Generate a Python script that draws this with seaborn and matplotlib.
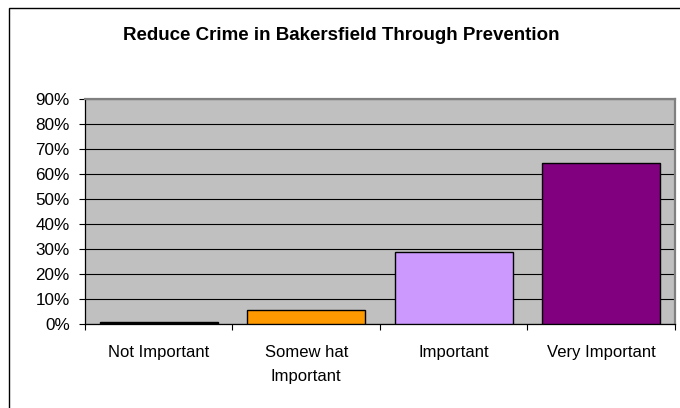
import matplotlib
matplotlib.use("Agg")
import matplotlib.pyplot as plt
import matplotlib.patches as mpatches
from matplotlib.ticker import FixedLocator, PercentFormatter
import seaborn as sns
import pandas as pd

# Survey responses
categories = ["Not Important", "Somew hat\nImportant", "Important", "Very Important"]
shares = [0.9, 5.5, 28.8, 64.5]
bar_colors = ["#000000", "#FF9900", "#CC99FF", "#800080"]
title = "Reduce Crime in Bakersfield Through Prevention"

sns.set_theme(style="white")
plt.rcParams["font.family"] = ["Liberation Sans", "DejaVu Sans"]
plt.rcParams["text.color"] = "black"
plt.rcParams["xtick.color"] = "black"
plt.rcParams["ytick.color"] = "black"

df = pd.DataFrame({"category": categories, "share": shares})

fig = plt.figure(figsize=(6.8, 4.08), dpi=100)
ax = fig.add_axes([0.125, 0.2059, 0.8676, 0.5515])

sns.barplot(data=df, x="category", y="share", hue="category",
            palette=bar_colors, saturation=1, width=0.8, edgecolor="black",
            linewidth=1.0, legend=False, ax=ax, zorder=3)

ax.set_facecolor("#C0C0C0")
ax.set_ylim(0, 90)
ax.set_xlim(-0.5, len(categories) - 0.5)
ax.yaxis.set_major_locator(FixedLocator(range(0, 91, 10)))
ax.yaxis.set_major_formatter(PercentFormatter(decimals=0))
ax.grid(axis="y", color="black", linewidth=0.8, zorder=1)
ax.set_axisbelow(True)

# Category labels sit between boundary ticks
ax.set_xticks([i - 0.5 for i in range(len(categories) + 1)])
ax.set_xticklabels([])
ax.set_xticks(range(len(categories)), minor=True)
ax.set_xticklabels(categories, minor=True, fontsize=12, linespacing=1.75)
ax.tick_params(axis="x", which="major", direction="out", length=4,
               width=0.8, color="black", bottom=True)
ax.tick_params(axis="x", which="minor", length=0, pad=15, bottom=True)
ax.tick_params(axis="y", direction="out", length=4, width=0.8,
               color="black", left=True, pad=7, labelsize=12.3)
ax.set_xlabel("")
ax.set_ylabel("")

for side in ("left", "bottom"):
    ax.spines[side].set_color("black")
    ax.spines[side].set_linewidth(0.9)
for side in ("top", "right"):
    ax.spines[side].set_color("#808080")
    ax.spines[side].set_linewidth(1.6)

fig.text(0.502, 0.914, title, ha="center", va="center",
         fontsize=13.5, fontweight="bold")

# Chart frame
frame = mpatches.Rectangle((9 / 680, -0.05), 1.2, 1 - 8 / 408 + 0.05,
                           transform=fig.transFigure, fill=False,
                           edgecolor="black", linewidth=1.0, clip_on=False)
fig.patches.append(frame)

fig.savefig("out.png", dpi=100)
